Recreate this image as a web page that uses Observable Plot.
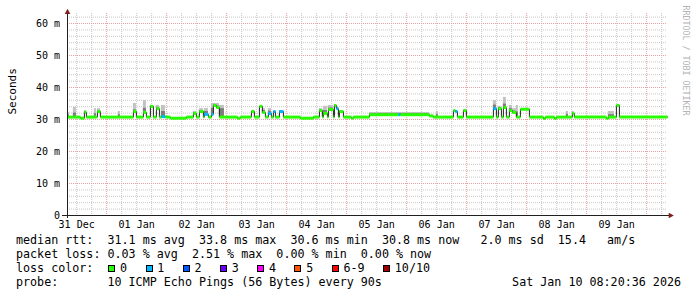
<!DOCTYPE html>
<html><head><meta charset="utf-8">
<script src="https://cdn.jsdelivr.net/npm/d3@7"></script>
<script src="https://cdn.jsdelivr.net/npm/@observablehq/plot@0.6"></script>
<style>
html,body{margin:0;padding:0;background:#fff;}
#chart svg{display:block;}
#legend{font-family:"DejaVu Sans Mono",monospace;font-size:11.7px;line-height:14.1px;color:#000;padding-left:16px;margin-top:3.2px;white-space:pre;}
.row{height:14.1px;white-space:pre;}
.sq{display:inline-block;width:7px;height:7px;box-sizing:border-box;border:1px solid #000;vertical-align:0.7px;}
.probe{display:flex;justify-content:space-between;width:665px;}
</style></head><body>
<div id="chart"></div><div id="legend"></div>
<script>
// ---- time range ----
const startTime = "2025-12-31T08:20:36Z";
const endTime = "2026-01-10T08:20:36Z";
const baseMedian = 30.75; // ms, typical median level

// ---- events (hours since 2026-01-01 00:00 UTC) ----
const evStart = [-15.6,-13.3,-10.5,-8.9,-4.9,-3.7,4.7,10.7,14.7,17.5,19.9,21.9,25.5,34.7,37.1,39.1,41.9,42.7,43.9,45.1,52.3,57.9,61.1,62.3,64.7,66.7,69.1,77.5,85.1,86.7,88.7,91.1,91.9,93.1,97.9,105.1,116.7,117.5,129.1,131.9,138.7,139.5,142.7,154.7,156.7,158.7,161.1,162.3,163.9,165.5,174.7,179.1,183.9,186.3,199.9,200.7,203.9];
const evEnd = [-14.9,-12.1,-8.9,-8.1,-4.1,-2.5,5.5,11.9,15.9,18.7,21.1,23.5,31.9,35.9,38.7,40.7,42.7,43.9,45.1,47.1,53.5,59.1,62.3,63.5,65.9,67.5,70.7,82.7,86.3,88.3,90.7,91.9,92.7,94.7,98.7,116.7,117.5,129.1,130.7,132.7,139.5,140.3,143.9,155.9,157.9,159.9,162.3,163.9,164.7,169.1,175.5,179.9,184.7,187.1,200.7,203.1,205.1];
const evTop = [32.2,33.8,30.4,32.8,33.4,33.4,32.5,35.0,35.9,34.4,34.4,34.4,30.4,32.5,33.4,33.4,35.0,35.0,35.0,34.4,30.4,32.5,34.1,33.4,33.4,32.5,32.8,30.4,33.4,34.1,34.4,34.7,34.1,32.8,30.4,32.2,32.2,32.2,31.4,32.5,32.8,32.8,32.8,35.9,34.1,36.9,34.4,33.4,34.4,33.2,30.3,30.3,32.5,32.5,30.3,32.5,34.4];
const evDark = [31.5,32.0,30.4,32.5,31.8,32.6,31.5,33.0,33.5,34.2,33.8,32.5,30.4,32.2,32.8,32.5,33.5,34.6,34.2,33.4,30.4,32.5,34.1,32.8,32.6,32.5,32.6,30.4,33.0,32.8,33.6,34.5,33.7,32.6,30.4,31.8,31.8,31.8,31.2,31.5,32.8,32.6,32.8,34.5,33.7,34.8,33.4,32.6,32.4,33.2,30.3,30.3,31.6,32.1,30.3,31.5,34.4];
const evMedian = [30.75,30.75,30.4,32.3,30.75,32.5,30.75,32.5,32.2,34.1,33.4,30.9,30.4,31.9,32.5,31.6,31.6,34.4,33.75,30.75,30.4,32.5,34.1,32.2,31.9,32.5,32.5,30.4,32.8,31.9,33.1,34.4,33.4,32.5,30.4,31.5,31.5,31.5,31.1,30.75,32.8,32.5,32.8,33.4,33.4,33.75,32.8,32.2,30.75,33.2,30.3,30.3,30.75,31.9,30.3,30.75,34.4];
const evLoss = [0,0,0,0,0,0,0,0,0,0, 0,1,0,0,0,1,1,0,0,0, 0,0,0,0,1,1,1,0,0,0, 0,0,1,0,0,0,1,0,0,0, 0,1,0,1,0,0,0,0,0,0, 0,0,0,0,0,0,0];

// ---- loss legend ----
const lossLabels = ["0","1","2","3","4","5","6-9","10/10"];
const lossColors = ["#26ff00","#00b8ff","#0059ff","#6a00ff","#ff00ff","#ff5500","#ff0000","#a00000"];

// ---- axes ----
const yTicks = [0,10,20,30,40,50,60];
const yTickLabels = ["0","10 m","20 m","30 m","40 m","50 m","60 m"];
const xTickDates = ["2025-12-31T12:00Z","2026-01-01T12:00Z","2026-01-02T12:00Z","2026-01-03T12:00Z","2026-01-04T12:00Z","2026-01-05T12:00Z","2026-01-06T12:00Z","2026-01-07T12:00Z","2026-01-08T12:00Z","2026-01-09T12:00Z"];
const xTickLabels = ["31 Dec","01 Jan","02 Jan","03 Jan","04 Jan","05 Jan","06 Jan","07 Jan","08 Jan","09 Jan"];

// ---- legend texts ----
const statNames = ["avg","max","min","now"];
const rttValues = ["31.1","33.8","30.6","30.8"];
const rttSd = "2.0";
const rttAms = "15.4";
const lossValues = ["0.03","2.51","0.00","0.00"];
const probeText = "10 ICMP Echo Pings (56 Bytes) every 90s";
const stampText = "Sat Jan 10 08:20:36 2026";

// ---- build ----
const jan1 = Date.UTC(2026,0,1);
const toDate = h => new Date(jan1 + h*36e5);
const t0 = new Date(startTime), t1 = new Date(endTime);
const startH = (t0 - jan1)/36e5, endH = (t1 - jan1)/36e5;

const events = evStart.map((s,i)=>({s, e: evEnd[i], top: evTop[i], dark: evDark[i], med: evMedian[i], loss: evLoss[i]}));
const runs = []; let cur = startH;
for (const ev of events) {
  if (ev.s > cur) runs.push({s: cur, e: ev.s, med: baseMedian, loss: 0});
  runs.push(ev); cur = ev.e;
}
runs.push({s: cur, e: endH, med: baseMedian, loss: 0});
const stepPts = runs.map(r => ({t: toDate(r.s), v: r.med}));
stepPts.push({t: toDate(endH), v: runs[runs.length-1].med});

const majorX = d3.utcDay.range(t0, t1);
const minorX = d3.utcHour.every(6).range(t0, t1).filter(d => d.getUTCHours() !== 0);
const majorY = yTicks.filter(v => v > 0);
const minorY = d3.range(2, 63, 2).filter(v => v % 10 !== 0);

const upArrow = {draw(c){ c.moveTo(-2.8,0.4); c.lineTo(0,-4.8); c.lineTo(2.8,0.4); c.closePath(); }};
const rightArrow = {draw(c){ c.moveTo(1.2,-2.8); c.lineTo(6.4,0); c.lineTo(1.2,2.8); c.closePath(); }};

const mono = "DejaVu Sans Mono";
const gridMinor = "#c8c8c8", gridMajor = "#e6a0a0";

const chart = Plot.plot({
  width: 697, height: 230,
  marginTop: 13, marginRight: 30, marginBottom: 15, marginLeft: 67,
  style: {fontFamily: mono, fontSize: "10px", background: "#fff", overflow: "visible", color: "#000"},
  x: {type: "utc", domain: [t0, t1], ticks: xTickDates.map(d => new Date(d)),
      tickFormat: d => xTickLabels[xTickDates.findIndex(s => +new Date(s) === +d)],
      tickSize: 0, tickPadding: 5, label: null},
  y: {domain: [0, 63.125], ticks: yTicks, tickFormat: v => yTickLabels[yTicks.indexOf(v)],
      tickSize: 0, tickPadding: 7.5, label: null},
  color: {type: "ordinal", domain: d3.range(lossLabels.length), range: lossColors},
  marks: [
    Plot.ruleY(minorY, {stroke: gridMinor, strokeDasharray: "1,1"}),
    Plot.ruleX(minorX, {stroke: gridMinor, strokeDasharray: "1,1"}),
    Plot.ruleY(majorY, {stroke: gridMajor, strokeDasharray: "1,1"}),
    Plot.ruleX(majorX, {stroke: gridMajor, strokeDasharray: "1,1"}),
    Plot.rect(events, {x1: d => toDate(d.s), x2: d => toDate(d.e), y1: "med", y2: "top", fill: "#c2c2c2"}),
    Plot.rect(events, {x1: d => toDate(d.s), x2: d => toDate(d.e), y1: "med", y2: "dark", fill: "#7c7c7c"}),
    Plot.line(stepPts, {x: "t", y: "v", curve: "step-after", stroke: "#202020", strokeWidth: 1}),
    Plot.link(runs, {x1: d => toDate(d.s), x2: d => toDate(d.e), y1: "med", y2: "med", stroke: "loss", strokeWidth: 3}),
    Plot.ruleY([0], {stroke: "#1f1f1f", insetLeft: -5, insetRight: -2}),
    Plot.ruleX([t0], {stroke: "#1f1f1f", insetTop: -2, insetBottom: -3}),
    Plot.dot([0], {frameAnchor: "top-left", symbol: upArrow, fill: "#7f1f1f", stroke: "none", r: 3}),
    Plot.dot([0], {frameAnchor: "bottom-right", symbol: rightArrow, fill: "#7f1f1f", stroke: "none", r: 3}),
    Plot.text(["Seconds"], {frameAnchor: "left", text: d => d, rotate: -90, dx: -55.5, fontSize: 11, fontFamily: mono, fill: "#000"}),
    Plot.text(["RRDTOOL / TOBI OETIKER"], {frameAnchor: "top-right", text: d => d, rotate: 90, textAnchor: "start", dx: 21, dy: -8, fontSize: 8.3, fontFamily: mono, fill: "#b4b4b4"})
  ]
});
document.getElementById("chart").appendChild(chart);

// ---- legend ----
const leg = document.getElementById("legend");
const row1 = document.createElement("div"); row1.className = "row";
row1.textContent = "median rtt:  " + rttValues.map((v,i) => v + " ms " + statNames[i]).join("  ") + "   " + rttSd + " ms sd  " + rttAms + "   am/s";
const row2 = document.createElement("div"); row2.className = "row";
row2.textContent = "packet loss: " + lossValues.map((v,i) => v + " % " + statNames[i]).join("  ");
const row3 = document.createElement("div"); row3.className = "row";
row3.appendChild(document.createTextNode("loss color:"));
lossLabels.forEach((lab, i) => {
  const sq = document.createElement("span"); sq.className = "sq";
  sq.style.background = lossColors[i];
  sq.style.marginLeft = (i === 0 ? 14.9 : 18.4) + "px";
  sq.style.marginRight = "4.8px";
  row3.appendChild(sq);
  row3.appendChild(document.createTextNode(lab));
});
const row4 = document.createElement("div"); row4.className = "row probe";
const pl = document.createElement("span"); pl.textContent = "probe:       " + probeText;
const pr = document.createElement("span"); pr.textContent = stampText;
row4.appendChild(pl); row4.appendChild(pr);
leg.append(row1, row2, row3, row4);
</script>
</body></html>
